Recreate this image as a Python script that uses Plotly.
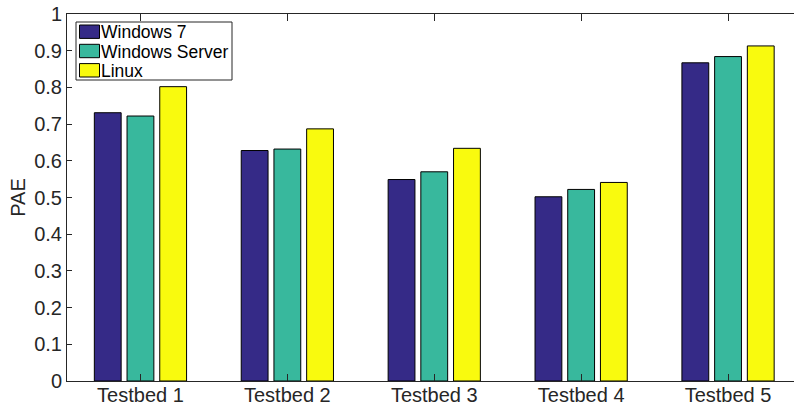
import plotly.graph_objects as go

categories = ["Testbed 1", "Testbed 2", "Testbed 3", "Testbed 4", "Testbed 5"]
windows7 = [0.731, 0.628, 0.549, 0.502, 0.867]
windows_server = [0.722, 0.632, 0.570, 0.522, 0.884]
linux = [0.802, 0.687, 0.634, 0.541, 0.913]

series_names = ["Windows 7", "Windows Server", "Linux"]
series_values = [windows7, windows_server, linux]
series_colors = ["#352a87", "#38b89d", "#f9fa0e"]
y_tick_vals = [i / 10 for i in range(11)]
y_tick_text = ["0", "0.1", "0.2", "0.3", "0.4", "0.5", "0.6", "0.7", "0.8", "0.9", "1"]

FONT = "Liberation Sans, Arial, Helvetica, sans-serif"
AXIS_COLOR = "#262626"

W, H = 794, 408
ML, MR, MT, MB = 67, 0, 14, 27
PW, PH = W - ML - MR, H - MT - MB


def px_x(p):
    return (p - ML) / PW


def px_y(p):
    return (H - MB - p) / PH


fig = go.Figure()
for name, vals, col in zip(series_names, series_values, series_colors):
    fig.add_trace(go.Bar(
        x=categories, y=vals, name=name,
        marker=dict(color=col, line=dict(color="black", width=1)),
    ))

# legend box (drawn manually to match the compact MATLAB-style legend)
shapes = [dict(type="rect", xref="paper", yref="paper",
               x0=px_x(76), x1=px_x(232), y0=px_y(80), y1=px_y(22),
               fillcolor="white", line=dict(color=AXIS_COLOR, width=1), layer="above")]
annotations = []
row_centers = [31.7, 51.0, 70.3]
for name, col, yc in zip(series_names, series_colors, row_centers):
    shapes.append(dict(type="rect", xref="paper", yref="paper",
                       x0=px_x(79.5), x1=px_x(99.5), y0=px_y(yc + 6.7), y1=px_y(yc - 6.7),
                       fillcolor=col, line=dict(color="black", width=1), layer="above"))
    annotations.append(dict(xref="paper", yref="paper", x=px_x(99), y=px_y(yc + 0.5),
                            xanchor="left", yanchor="middle", showarrow=False, text=name,
                            font=dict(family=FONT, size=17.5, color="black")))

fig.update_layout(
    width=W, height=H,
    margin=dict(l=ML, r=MR, t=MT, b=MB),
    paper_bgcolor="white", plot_bgcolor="white",
    barmode="group", bargap=0.332, bargroupgap=0.18,
    font=dict(family=FONT, size=20, color=AXIS_COLOR),
    showlegend=False,
    shapes=shapes, annotations=annotations,
)
fig.update_xaxes(
    range=[-0.5, 4.449], showline=True, linecolor=AXIS_COLOR, linewidth=1,
    mirror="ticks", ticks="inside", ticklen=7, tickcolor=AXIS_COLOR,
    showgrid=False, zeroline=False, automargin=False,
    tickfont=dict(size=20, color=AXIS_COLOR), ticklabelstandoff=-4,
)
fig.update_yaxes(
    range=[0, 1], tickvals=y_tick_vals, ticktext=y_tick_text,
    showline=True, linecolor=AXIS_COLOR, linewidth=1, mirror=False,
    ticks="inside", ticklen=5, tickcolor=AXIS_COLOR,
    showgrid=False, zeroline=False, automargin=False,
    tickfont=dict(size=20, color=AXIS_COLOR),
    title=dict(text="PAE", font=dict(size=20, color=AXIS_COLOR), standoff=3),
)

fig.write_html(
    "out.html",
    config={"displayModeBar": False},
    post_script="document.body.style.margin='0';document.body.style.overflow='hidden';",
)
